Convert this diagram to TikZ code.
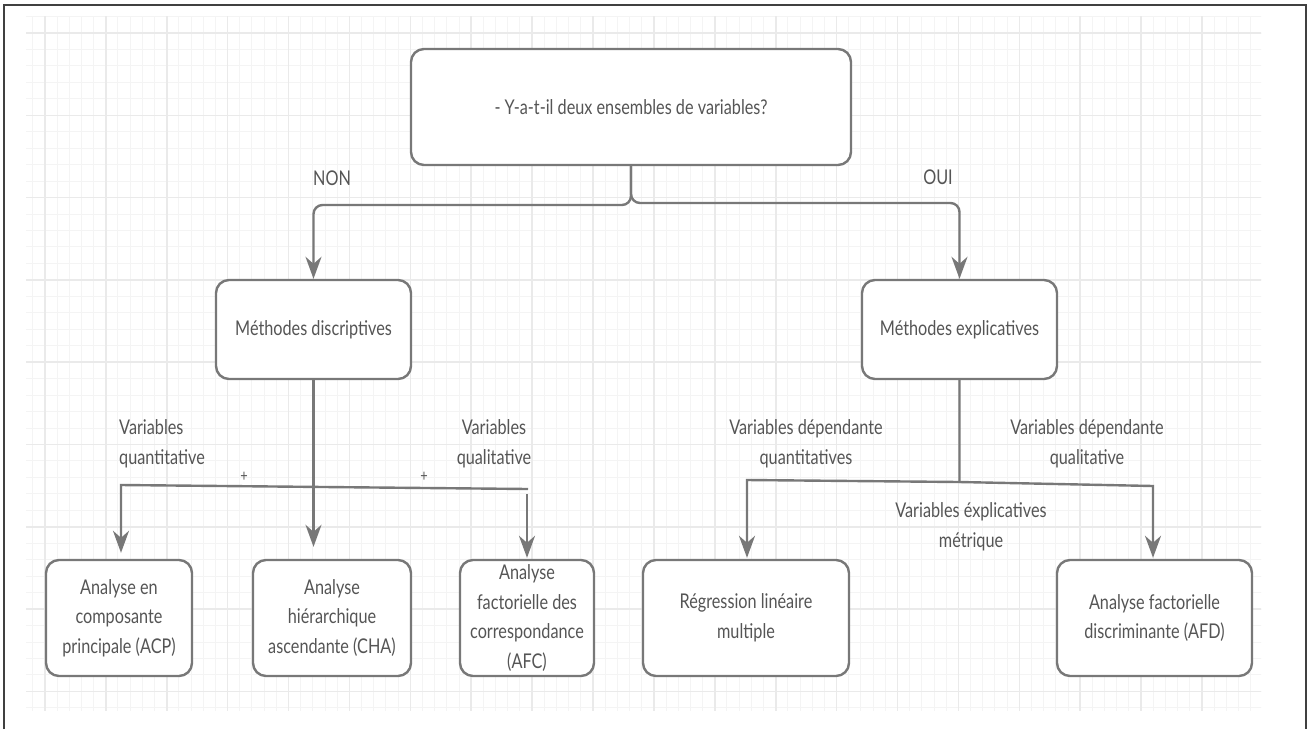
\documentclass[tikz,border=0pt]{standalone}
\usepackage{fontspec}
\setmainfont{Lato}[FakeStretch=0.8]
\usetikzlibrary{arrows.meta}
\definecolor{gridminor}{HTML}{F4F4F4}
\definecolor{gridmajor}{HTML}{EAEAEA}
\definecolor{linec}{HTML}{787878}
\definecolor{textc}{HTML}{555555}
\newcommand\fsz{\fontsize{20.3}{29.5}\selectfont}
\newcommand\fsplus{\fontsize{16}{18}\selectfont}
\tikzset{
  box/.style={draw=linec, line width=2.4pt, rounded corners=13pt, fill=white,
    align=center, inner sep=2pt, text=textc, font=\fsz},
  link/.style={draw=linec, line width=2.4pt},
  arr/.style={link, -{Stealth[length=22pt,width=16pt,inset=7pt]}},
  lbl/.style={text=textc, align=center, inner sep=0pt, font=\fsz},
  plus/.style={text=textc, inner sep=0pt, font=\fsplus},
}
\begin{document}
\begin{tikzpicture}[x=1pt,y=-1pt]
\useasboundingbox (0,0) rectangle (1312,729);
\fill[white] (0,0) rectangle (1312,729);
% grid
\begin{scope}
\clip (26,16.6) rectangle (1261,710);
\foreach \i in {-2,...,102} \draw[gridminor, line width=1pt] ({44.9+\i*12.18},0) -- ({44.9+\i*12.18},729);
\foreach \j in {-2,...,43} \draw[gridminor, line width=1pt] (0,{33+\j*16.46}) -- (1312,{33+\j*16.46});
\foreach \i in {-1,...,21} \draw[gridmajor, line width=1.6pt] ({44.9+\i*60.9},0) -- ({44.9+\i*60.9},729);
\foreach \j in {-1,...,9} \draw[gridmajor, line width=1.6pt] (0,{33+\j*82.3}) -- (1312,{33+\j*82.3});
\end{scope}
% frame
\draw[line width=2pt, black!75] (4,729) -- (4,5) -- (1306,5) -- (1306,729);

% nodes
\node[box, minimum width=440, minimum height=116] (top) at (631,107) {- Y-a-t-il deux ensembles de variables?};
\node[box, minimum width=195, minimum height=99] (desc) at (313.5,329.5) {Méthodes discriptives};
\node[box, minimum width=195, minimum height=99] (expl) at (959.5,329.5) {Méthodes explicatives};
\node[box, minimum width=146, minimum height=116] (acp) at (119,618) {Analyse en\\composante\\principale (ACP)};
\node[box, minimum width=158, minimum height=116] (cha) at (332,618) {Analyse\\hiérarchique\\ascendante (CHA)};
\node[box, minimum width=134, minimum height=116, inner sep=0pt] (afc) at (527,618) {Analyse\\factorielle des\\correspondance\\(AFC)};
\node[box, minimum width=206, minimum height=116] (reg) at (746,618) {Régression linéaire\\multiple};
\node[box, minimum width=195, minimum height=116] (afd) at (1154.5,618) {Analyse factorielle\\discriminante (AFD)};

% labels
\node[lbl] (non) at (332,178) {NON};
\node[lbl] (oui) at (938,177) {OUI};
\node[lbl, anchor=west, align=left] (lquant) at (119,444) {Variables\\quantitative};
\node[lbl] (lqual) at (494,444) {Variables\\qualitative};
\node[lbl] (ldquant) at (806,444) {Variables dépendante\\quantitatives};
\node[lbl] (ldqual) at (1087,444) {Variables dépendante\\qualitative};
\node[lbl] (lexpl) at (971,527) {Variables éxplicatives\\métrique};
\node[plus] (p1) at (244,477) {+};
\node[plus] (p2) at (424,477) {+};

% connectors
\coordinate (yN) at (0,205);
\coordinate (yO) at (0,203);
\draw[arr] (top.south) [rounded corners=9pt] |- (desc.north |- yN) [sharp corners] -- (desc.north);
\draw[arr] (top.south) [rounded corners=9pt] |- (expl.north |- yO) [sharp corners] -- (expl.north);

\coordinate (qL) at (121,485);
\coordinate (qR) at (528,489);
\coordinate (qA) at (527,494);
\draw[arr, shorten >=12pt] (desc.south) -- (desc.south |- cha.north);
\draw[arr, shorten >=6pt] (qR) -- (qL) -- (qL |- acp.north);
\draw[arr, shorten >=1pt] (qA) -- (qA |- afc.north);

\coordinate (jR) at (960,482);
\coordinate (cL) at (747,480);
\coordinate (cR) at (1153,486);
\draw[arr, shorten >=1pt] (expl.south) -- (expl.south |- jR) -- (cL) -- (cL |- reg.north);
\draw[arr, shorten >=1pt] (expl.south |- jR) -- (cR) -- (cR |- afd.north);
\end{tikzpicture}
\end{document}
